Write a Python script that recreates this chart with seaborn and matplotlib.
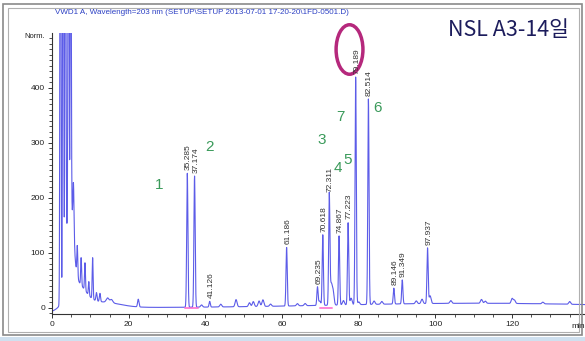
import numpy as np
import pandas as pd
import matplotlib
matplotlib.use("Agg")
import matplotlib.pyplot as plt
from matplotlib.patches import Ellipse, Rectangle
import seaborn as sns

# Labelled peaks: retention time (min) and height (Norm.)
peak_times = [35.285, 37.174, 41.126, 61.186, 69.235, 70.618, 72.311,
              74.867, 77.223, 79.189, 82.514, 89.146, 91.349, 97.937]
peak_heights = [245, 240, 12, 110, 38, 133, 205, 131, 155, 420, 380, 36, 51, 109]

# Solvent front, early eluting peaks and slow drift (time, height, width)
early_times = [-1.0, 2.2, 2.9, 3.5, 4.3, 4.9, 4.6, 6.5, 13.0,
               5.6, 6.6, 7.6, 8.6, 9.6, 10.6, 11.6, 12.5, 14.5, 15.5, 22.5,
               110.0]
early_heights = [-8, 1300, 1200, 1100, 900, 700, 170, 40, 10,
                 95, 55, 50, 50, 25, 75, 15, 15, 8, 6, 14,
                 8]
early_widths = [2.0, 0.12, 0.12, 0.12, 0.12, 0.12, 0.9, 2.2, 4.5,
                0.15, 0.12, 0.12, 0.12, 0.12, 0.12, 0.15, 0.15, 0.35, 0.35, 0.18,
                35.0]

# Small unlabelled bumps along the baseline (time, height)
minor_times = [39.0, 44.0, 48.0, 51.5, 52.5, 54.0, 55.0, 57.0, 64.0, 66.0,
               69.8, 72.8, 73.3, 76.0, 78.0, 80.0, 84.0, 86.0, 95.0, 96.5,
               98.6, 104.0, 112.0, 113.0, 120.0, 120.6, 128.0, 135.0]
minor_heights = [4, 5, 13, 7, 9, 10, 12, 4, 4, 4,
                 8, 36, 25, 8, 12, 5, 6, 5, 5, 8,
                 14, 5, 7, 4, 9, 6, 3, 5]

# Numbered compound annotations (number, time, level)
compound_ids = ["1", "2", "3", "4", "5", "7", "6"]
compound_x = [28.0, 41.0, 70.4, 74.6, 77.0, 75.3, 84.9]
compound_y = [224, 293, 305, 255, 269, 347, 364]

x_ticks = [0, 20, 40, 60, 80, 100, 120]
y_ticks = [0, 100, 200, 300, 400]
baseline_level = 0.5
peak_width = 0.16

t = np.linspace(0, 139, 9000)


def gauss(x, mu, h, s):
    return h * np.exp(-0.5 * ((x - mu) / s) ** 2)


signal = np.full_like(t, baseline_level)
for mu, h, s in zip(early_times, early_heights, early_widths):
    signal += gauss(t, mu, h, s)
for mu, h in zip(peak_times, peak_heights):
    signal += gauss(t, mu, h - signal[np.abs(t - mu).argmin()], peak_width)
for mu, h in zip(minor_times, minor_heights):
    signal += gauss(t, mu, h, 0.25)

df = pd.DataFrame({"time": t, "signal": signal})

sns.set_style("ticks")
plt.rcParams["font.family"] = ["Liberation Sans", "DejaVu Sans"]

fig = plt.figure(figsize=(5.85, 3.41), dpi=100)
ax = fig.add_axes([52 / 585, 1 - 314 / 341, (585 - 52) / 585, (314 - 33) / 341])

sns.lineplot(data=df, x="time", y="signal", ax=ax, color="#5c5ce8",
             linewidth=0.8, estimator=None)

# integration baselines under the first pair and the 72 min cluster
for a, b in [(0, 1), (5, 6)]:
    ax.plot([peak_times[a] - 0.6, peak_times[b] + 0.8], [0.5, 0.5],
            color="#ff66cc", lw=1.4, alpha=0.8)

ax.set_xlim(0, 139)
ax.set_ylim(-11, 500)
ax.set_xticks(x_ticks)
ax.set_yticks(y_ticks)
ax.set_xticks(np.arange(0, 139, 5), minor=True)
ax.set_yticks(np.arange(-10, 500, 10), minor=True)
ax.tick_params(axis="both", labelsize=6, color="#333333", labelcolor="#222222",
               length=3, width=0.7, pad=2)
ax.tick_params(which="minor", length=2, width=0.6, color="#333333")
ax.set_xlabel("")
ax.set_ylabel("")
for side in ["top", "right"]:
    ax.spines[side].set_visible(False)
for side in ["left", "bottom"]:
    ax.spines[side].set_color("#333333")
    ax.spines[side].set_linewidth(0.8)

# retention-time labels above each peak
for mu, h in zip(peak_times, peak_heights):
    ax.text(mu + 0.3, h + 6, f"{mu:.3f}", rotation=90, ha="center", va="bottom",
            fontsize=6, color="#333333")

for lab, cx, cy in zip(compound_ids, compound_x, compound_y):
    ax.text(cx, cy, lab, fontsize=11, color="#3a9a5a", ha="center", va="center")

# highlight ring around the main peak label
ring = Ellipse((peak_times[9] - 1.6, 470), width=7.0, height=90, fill=False,
               edgecolor="#b5287c", lw=2.5, clip_on=False)
ax.add_patch(ring)

fig.text(35 / 585, 1 - 36 / 341, "Norm.", fontsize=5.5, color="#222222",
         ha="center", va="center")
fig.text(578 / 585, 1 - 326 / 341, "min", fontsize=6, color="#222222",
         ha="center", va="center")
fig.text(55 / 585, 1 - 13 / 341,
         "VWD1 A, Wavelength=203 nm (SETUP\\SETUP 2013-07-01 17-20-20\\1FD-0501.D)",
         fontsize=5.8, color="#2b3fc4", ha="left", va="center")
fig.text(508 / 585, 1 - 30 / 341, "NSL A3-14일", fontsize=15.5, color="#1c1c5c",
         ha="center", va="center", family=["Noto Sans CJK KR", "DejaVu Sans"])

# window frame
fig.patches.append(Rectangle((3 / 585, 1 - 335 / 341), 579 / 585, 331 / 341,
                             transform=fig.transFigure, fill=False,
                             edgecolor="#8a8a8a", lw=1.2))
fig.patches.append(Rectangle((8 / 585, 1 - 332 / 341), 571 / 585, 324 / 341,
                             transform=fig.transFigure, fill=False,
                             edgecolor="#b0b0b0", lw=0.8))
fig.patches.append(Rectangle((0, 0), 1, 4 / 341, transform=fig.transFigure,
                             facecolor="#cfe0ef", edgecolor="none"))

fig.savefig("out.png", dpi=100)
